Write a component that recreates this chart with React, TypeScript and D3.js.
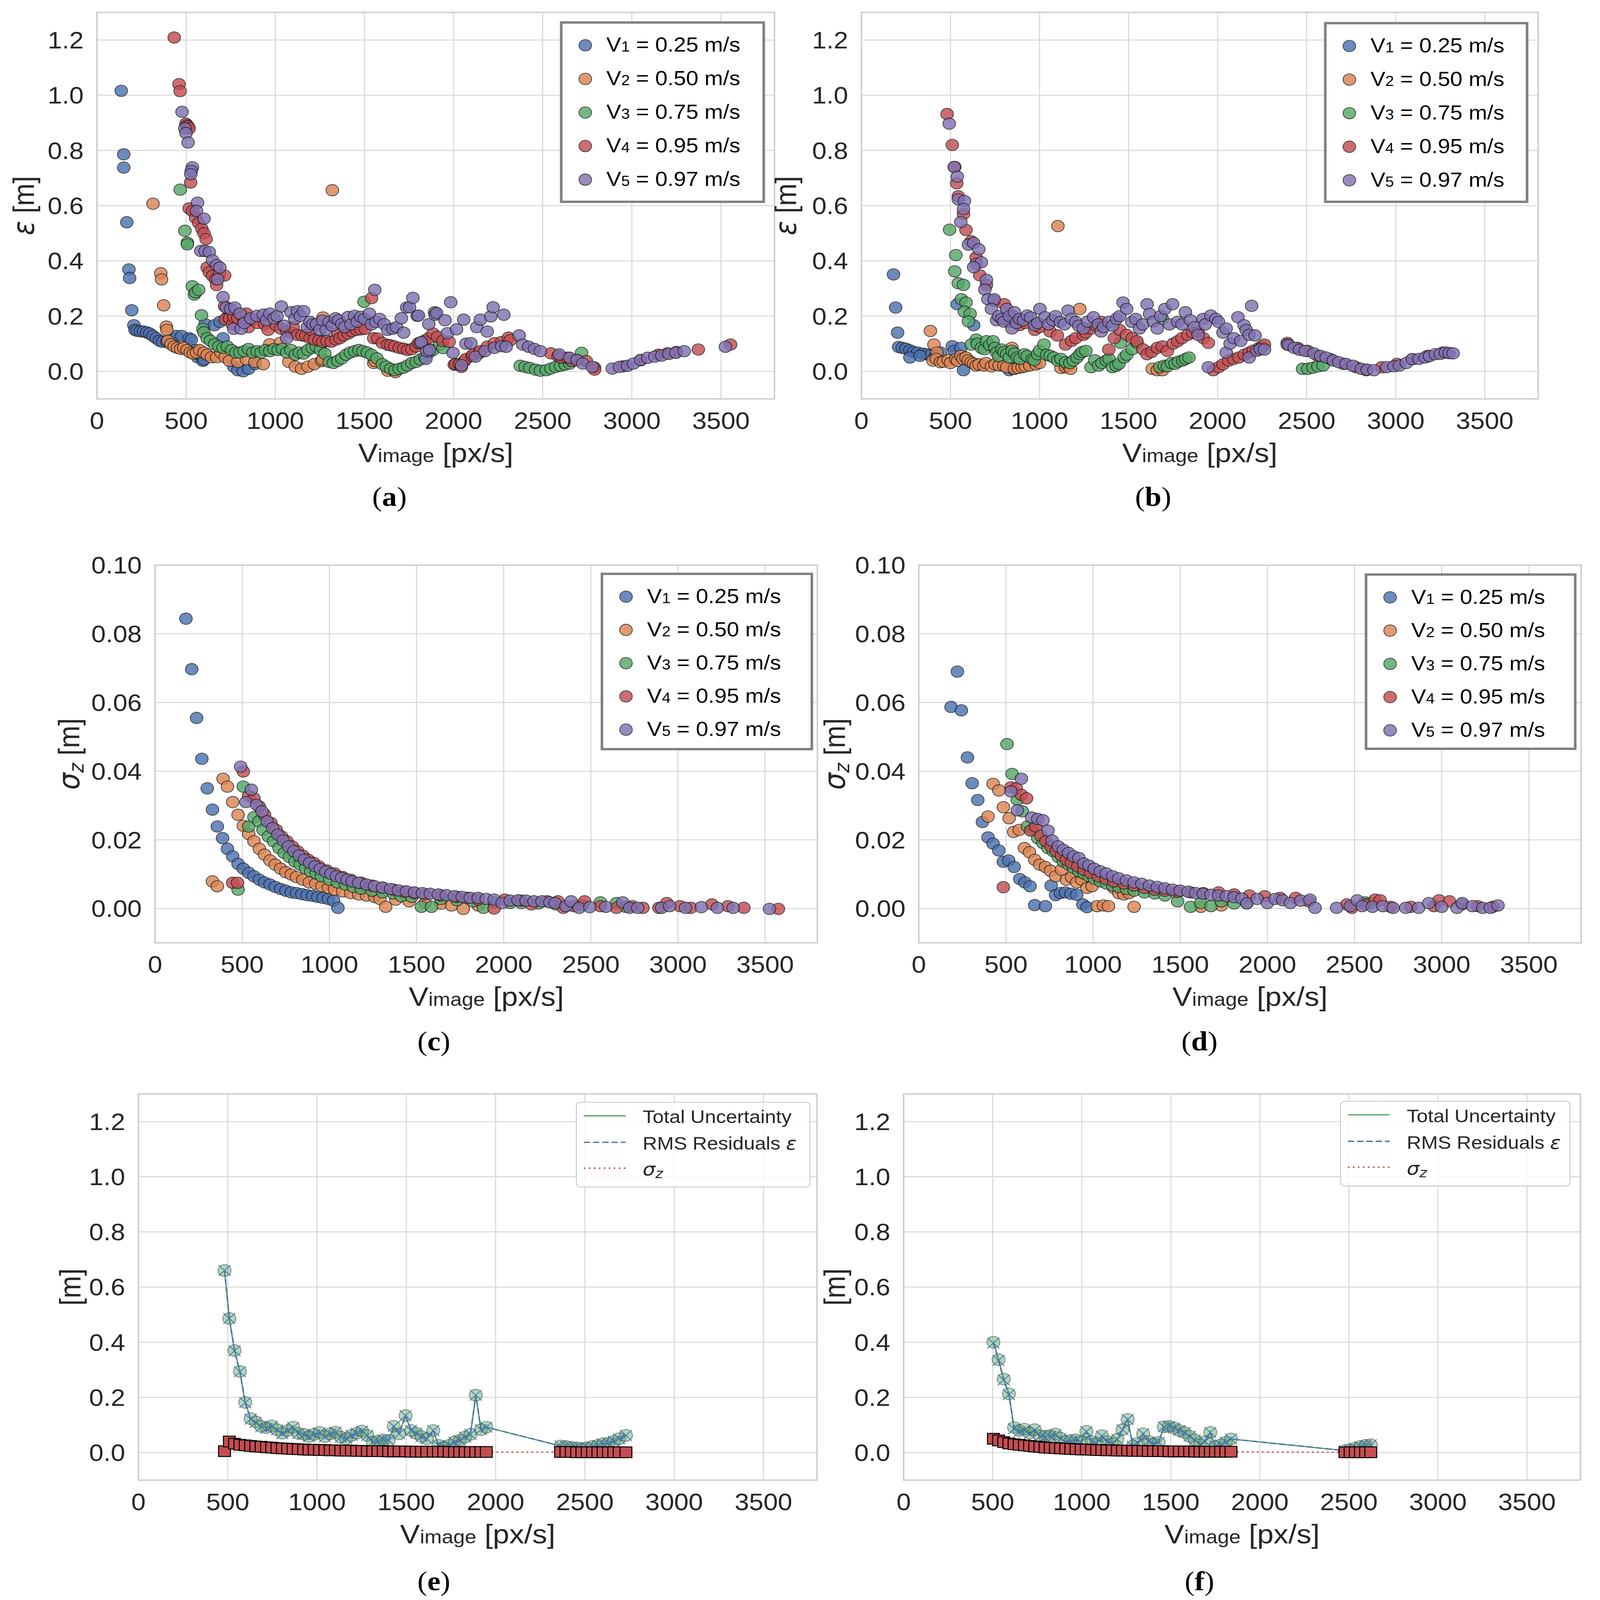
import React from 'react';
import * as d3 from 'd3';

const W = 4322;
const H = 4765;
const COLORS = ['#4C72B0', '#DD8452', '#55A868', '#C44E52', '#8172B3'];
const SPEED_LABELS = ['0.25', '0.50', '0.75', '0.95', '0.97'];
const X_TICKS = [0, 500, 1000, 1500, 2000, 2500, 3000, 3500];
const EPS_TICKS = [0, 0.2, 0.4, 0.6, 0.8, 1.0, 1.2];
const SIG_TICKS = [0, 0.02, 0.04, 0.06, 0.08, 0.1];
const LINE_LEGEND = ['Total Uncertainty', 'RMS Residuals', 'sigma'];

type Pt = [number, number];

// ---------- panel (a): epsilon, run 1 ----------
const epsA_V1: Pt[] = [[136,1.016],[150,0.786],[150,0.738],[167,0.540],[179,0.369],[183,0.338],[195,0.221],[207,0.167],[213,0.150],[225,0.147],[243,0.145],[261,0.144],[279,0.141],[296,0.137],[314,0.128],[332,0.120],[350,0.111],[368,0.107],[392,0.107],[421,0.120],[445,0.128],[475,0.128],[517,0.120],[529,0.115],[552,0.077],[564,0.051],[576,0.060],[594,0.038],[600,0.043],[606,0.171],[659,0.167],[689,0.179],[707,0.120],[767,0.017],[790,0.004],[820,0.000],[850,0.009],[886,0.026]];
const epsA_V2: Pt[] = [[314,0.607],[358,0.355],[362,0.333],[374,0.239],[389,0.162],[392,0.150],[398,0.111],[415,0.098],[433,0.090],[451,0.085],[469,0.081],[487,0.085],[505,0.077],[523,0.068],[540,0.064],[558,0.068],[576,0.077],[600,0.068],[618,0.060],[642,0.051],[671,0.051],[695,0.068],[719,0.051],[743,0.038],[790,0.034],[838,0.043],[886,0.034],[933,0.026],[969,0.098],[1028,0.103],[1076,0.034],[1112,0.017],[1147,0.009],[1183,0.017],[1219,0.026],[1259,0.037],[1266,0.043],[1268,0.195],[1320,0.656],[1552,0.030],[1560,0.037],[1631,0.002],[1674,-0.003]];
const epsA_V3: Pt[] = [[467,0.658],[493,0.509],[507,0.466],[507,0.460],[535,0.308],[546,0.278],[553,0.286],[570,0.295],[586,0.203],[594,0.154],[600,0.141],[618,0.120],[636,0.111],[659,0.098],[683,0.090],[707,0.085],[731,0.090],[755,0.077],[779,0.068],[802,0.068],[826,0.073],[850,0.081],[874,0.068],[898,0.073],[921,0.068],[945,0.077],[969,0.073],[993,0.081],[1016,0.077],[1040,0.081],[1064,0.068],[1088,0.077],[1112,0.060],[1135,0.068],[1159,0.064],[1183,0.077],[1207,0.085],[1230,0.090],[1254,0.077],[1278,0.064],[1302,0.034],[1326,0.030],[1350,0.038],[1373,0.047],[1397,0.060],[1421,0.068],[1445,0.073],[1469,0.077],[1492,0.073],[1498,0.252],[1516,0.068],[1540,0.060],[1570,0.047],[1600,0.026],[1623,0.017],[1647,0.009],[1671,0.004],[1695,0.009],[1719,0.013],[1742,0.021],[1766,0.030],[1790,0.034],[1814,0.043],[1838,0.051],[1862,0.068],[1885,0.077],[1894,0.214],[1923,0.096],[1941,0.084],[2374,0.020],[2401,0.016],[2427,0.012],[2460,0.006],[2487,0.002],[2520,0.004],[2546,0.010],[2573,0.016],[2599,0.020],[2626,0.024],[2652,0.028],[2718,0.067]];
const epsA_V4: Pt[] = [[433,1.209],[460,1.040],[466,1.015],[499,0.897],[505,0.891],[511,0.887],[517,0.880],[525,0.684],[517,0.590],[535,0.581],[553,0.556],[570,0.538],[588,0.517],[600,0.500],[612,0.479],[618,0.376],[630,0.359],[648,0.346],[665,0.333],[671,0.312],[687,0.352],[716,0.347],[716,0.236],[730,0.195],[719,0.188],[743,0.192],[760,0.170],[767,0.197],[790,0.192],[814,0.201],[838,0.209],[850,0.160],[870,0.185],[900,0.175],[940,0.170],[960,0.150],[1005,0.167],[1030,0.155],[1064,0.145],[1090,0.140],[1100,0.160],[1124,0.132],[1150,0.130],[1171,0.128],[1195,0.120],[1200,0.150],[1219,0.115],[1245,0.112],[1266,0.107],[1290,0.110],[1314,0.107],[1340,0.115],[1350,0.140],[1362,0.120],[1385,0.130],[1409,0.137],[1430,0.145],[1457,0.150],[1480,0.152],[1504,0.154],[1540,0.265],[1552,0.120],[1574,0.119],[1600,0.103],[1631,0.096],[1647,0.094],[1670,0.090],[1695,0.085],[1720,0.082],[1742,0.077],[1765,0.080],[1790,0.090],[1803,0.102],[1838,0.111],[1860,0.120],[1885,0.137],[1910,0.125],[1940,0.110],[1975,0.107],[2004,0.024],[2012,0.026],[2032,0.026],[2044,0.016],[2061,0.037],[2070,0.045],[2104,0.055],[2110,0.061],[2147,0.067],[2149,0.073],[2189,0.089],[2229,0.102],[2269,0.106],[2308,0.122],[2318,0.113],[2546,0.065],[2586,0.055],[2604,0.049],[2639,0.049],[2662,0.037],[2692,0.041],[2745,0.037],[2790,0.014],[2791,0.006],[2950,0.018],[3050,0.040],[3150,0.060],[3200,0.065],[3250,0.070],[3373,0.079],[3554,0.097]];
const epsA_V5: Pt[] = [[477,0.940],[493,0.880],[499,0.863],[511,0.829],[535,0.739],[529,0.726],[526,0.714],[564,0.611],[558,0.581],[600,0.553],[582,0.436],[606,0.436],[630,0.432],[648,0.402],[671,0.385],[689,0.376],[677,0.333],[707,0.269],[725,0.231],[749,0.226],[773,0.231],[802,0.209],[766,0.154],[808,0.154],[826,0.175],[862,0.192],[897,0.201],[933,0.205],[950,0.185],[969,0.209],[993,0.192],[1010,0.200],[1034,0.235],[1050,0.165],[1064,0.120],[1088,0.214],[1110,0.190],[1124,0.218],[1140,0.200],[1159,0.218],[1180,0.160],[1195,0.179],[1210,0.170],[1231,0.171],[1250,0.150],[1266,0.184],[1285,0.150],[1302,0.179],[1320,0.165],[1338,0.192],[1355,0.185],[1373,0.171],[1390,0.160],[1409,0.197],[1425,0.170],[1445,0.201],[1460,0.180],[1480,0.197],[1500,0.190],[1528,0.209],[1540,0.170],[1558,0.295],[1564,0.179],[1585,0.190],[1611,0.171],[1630,0.150],[1659,0.154],[1680,0.160],[1707,0.192],[1720,0.140],[1737,0.231],[1753,0.232],[1772,0.266],[1796,0.201],[1803,0.202],[1814,0.103],[1819,0.106],[1845,0.045],[1850,0.073],[1861,0.171],[1865,0.077],[1897,0.205],[1905,0.211],[1952,0.185],[1965,0.138],[1984,0.250],[1997,0.067],[2017,0.152],[2044,0.022],[2057,0.187],[2070,0.100],[2097,0.102],[2123,0.053],[2130,0.160],[2150,0.187],[2176,0.073],[2189,0.144],[2209,0.199],[2222,0.232],[2229,0.085],[2269,0.091],[2282,0.205],[2295,0.089],[2368,0.130],[2388,0.097],[2421,0.089],[2454,0.081],[2487,0.073],[2593,0.061],[2652,0.049],[2692,0.041],[2725,0.028],[2778,0.016],[2890,0.010],[2930,0.016],[2976,0.020],[3009,0.028],[3049,0.041],[3089,0.049],[3128,0.053],[3168,0.057],[3208,0.063],[3247,0.067],[3294,0.073],[3525,0.089]];

// ---------- panel (b): epsilon, run 2 ----------
const epsB_V1: Pt[] = [[180,0.351],[192,0.231],[203,0.140],[209,0.088],[229,0.085],[249,0.082],[272,0.076],[292,0.070],[315,0.068],[344,0.064],[367,0.062],[387,0.058],[272,0.050],[329,0.056],[415,0.053],[444,0.068],[510,0.091],[521,0.074],[538,0.243],[558,0.085],[573,0.004],[630,0.167],[830,0.004],[853,0.009]];
const epsB_V2: Pt[] = [[387,0.146],[407,0.097],[424,0.068],[401,0.039],[420,0.045],[444,0.033],[460,0.035],[487,0.041],[500,0.030],[530,0.044],[540,0.038],[558,0.056],[570,0.045],[587,0.050],[600,0.040],[616,0.033],[630,0.028],[644,0.021],[660,0.025],[687,0.021],[700,0.030],[730,0.018],[750,0.025],[773,0.021],[800,0.020],[816,0.015],[845,0.085],[859,0.009],[880,0.012],[902,0.015],[920,0.018],[945,0.021],[980,0.025],[1000,0.030],[1103,0.526],[1120,0.012],[1146,0.015],[1160,0.020],[1174,0.009],[1226,0.226],[1633,0.009],[1661,0.004],[1690,0.004]];
const epsB_V3: Pt[] = [[495,0.513],[530,0.421],[524,0.362],[544,0.319],[573,0.313],[561,0.261],[587,0.249],[578,0.216],[610,0.208],[601,0.181],[644,0.115],[616,0.097],[650,0.100],[673,0.085],[690,0.080],[702,0.109],[720,0.095],[739,0.109],[750,0.085],[759,0.068],[770,0.055],[788,0.079],[800,0.070],[816,0.062],[830,0.050],[845,0.074],[860,0.065],[874,0.050],[890,0.045],[916,0.062],[930,0.055],[959,0.044],[970,0.040],[988,0.062],[1000,0.075],[1025,0.097],[1040,0.060],[1060,0.056],[1080,0.050],[1103,0.039],[1120,0.045],[1146,0.033],[1170,0.030],[1189,0.039],[1210,0.050],[1226,0.062],[1240,0.070],[1260,0.074],[1289,0.015],[1310,0.040],[1332,0.021],[1350,0.030],[1375,0.039],[1390,0.045],[1409,0.015],[1430,0.020],[1446,0.027],[1455,0.103],[1475,0.050],[1490,0.060],[1520,0.080],[1547,0.103],[1675,0.015],[1690,0.190],[1700,0.020],[1718,0.018],[1740,0.030],[1761,0.027],[1780,0.035],[1804,0.039],[1820,0.045],[1839,0.050],[2477,0.009],[2506,0.009],[2535,0.013],[2563,0.018],[2592,0.021]];
const epsB_V4: Pt[] = [[481,0.932],[510,0.820],[524,0.740],[535,0.681],[544,0.634],[573,0.570],[587,0.512],[616,0.471],[644,0.412],[664,0.348],[702,0.313],[745,0.255],[802,0.243],[788,0.190],[830,0.179],[850,0.200],[888,0.167],[920,0.175],[973,0.150],[1000,0.160],[1060,0.144],[1100,0.130],[1146,0.097],[1180,0.110],[1203,0.120],[1246,0.132],[1260,0.140],[1289,0.155],[1320,0.165],[1346,0.179],[1389,0.079],[1420,0.120],[1450,0.150],[1489,0.132],[1520,0.120],[1547,0.109],[1580,0.080],[1604,0.062],[1630,0.070],[1661,0.085],[1690,0.090],[1718,0.074],[1750,0.100],[1775,0.109],[1800,0.120],[1833,0.132],[1860,0.140],[1890,0.144],[1920,0.120],[1948,0.103],[1976,0.004],[2005,0.015],[2030,0.025],[2062,0.039],[2090,0.045],[2119,0.050],[2150,0.060],[2177,0.068],[2200,0.075],[2234,0.085],[2250,0.090],[2263,0.097],[2391,0.103],[2449,0.085],[2506,0.074],[2563,0.056],[2635,0.044],[2706,0.027],[2778,0.015],[2835,0.004],[2921,0.015],[3007,0.027],[3093,0.044],[3179,0.056],[3265,0.068]];
const epsB_V5: Pt[] = [[493,0.897],[521,0.740],[538,0.705],[544,0.623],[578,0.617],[573,0.588],[558,0.541],[601,0.459],[630,0.465],[659,0.442],[644,0.389],[673,0.395],[630,0.377],[702,0.331],[693,0.296],[710,0.261],[745,0.261],[730,0.226],[759,0.185],[770,0.200],[788,0.190],[800,0.180],[816,0.226],[830,0.200],[859,0.214],[845,0.155],[870,0.175],[888,0.190],[910,0.185],[931,0.202],[950,0.195],[973,0.167],[990,0.175],[1002,0.226],[1031,0.196],[1050,0.170],[1074,0.185],[1090,0.200],[1117,0.179],[1140,0.170],[1160,0.220],[1180,0.190],[1203,0.179],[1220,0.165],[1246,0.155],[1270,0.180],[1303,0.196],[1330,0.170],[1346,0.144],[1360,0.160],[1389,0.179],[1410,0.165],[1432,0.190],[1450,0.200],[1469,0.249],[1489,0.226],[1518,0.179],[1540,0.190],[1561,0.155],[1580,0.170],[1604,0.243],[1618,0.208],[1640,0.180],[1661,0.155],[1680,0.200],[1704,0.226],[1730,0.170],[1747,0.243],[1775,0.179],[1800,0.170],[1819,0.214],[1847,0.185],[1870,0.160],[1890,0.132],[1919,0.190],[1930,0.170],[1962,0.202],[1948,0.015],[1990,0.190],[2005,0.179],[2030,0.140],[2048,0.155],[2048,0.068],[2070,0.100],[2091,0.120],[2114,0.196],[2130,0.110],[2148,0.167],[2160,0.150],[2177,0.132],[2191,0.237],[2177,0.050],[2210,0.130],[2220,0.074],[2240,0.080],[2263,0.079],[2391,0.097],[2400,0.095],[2430,0.085],[2460,0.078],[2492,0.074],[2540,0.065],[2578,0.056],[2610,0.050],[2649,0.039],[2680,0.033],[2721,0.027],[2760,0.020],[2807,0.009],[2840,0.006],[2878,0.004],[2950,0.015],[2990,0.018],[3021,0.021],[3060,0.030],[3093,0.044],[3130,0.045],[3165,0.050],[3190,0.055],[3222,0.062],[3250,0.063],[3279,0.068],[3300,0.066],[3322,0.065]];

// ---------- panel (c): sigma_z, run 1 ----------
const sigC_V1: Pt[] = [[177,0.0844],[210,0.0697],[238,0.0555],[268,0.0436],[299,0.0350],[329,0.0288],[357,0.0239],[387,0.0205],[415,0.0174],[445,0.0152],[476,0.0130],[506,0.0116],[537,0.0104],[567,0.0094],[598,0.0084],[628,0.0076],[659,0.0070],[689,0.0063],[720,0.0057],[750,0.0052],[781,0.0047],[811,0.0045],[842,0.0042],[872,0.0039],[903,0.0037],[933,0.0034],[963,0.0031],[994,0.0028],[1024,0.0023],[1049,0.0002]];
const sigC_V2: Pt[] = [[329,0.0079],[357,0.0065],[390,0.0378],[415,0.0355],[445,0.0310],[476,0.0273],[506,0.0241],[537,0.0217],[567,0.0196],[598,0.0174],[628,0.0157],[659,0.0140],[689,0.0128],[720,0.0116],[750,0.0106],[781,0.0099],[811,0.0092],[848,0.0084],[884,0.0076],[921,0.0072],[957,0.0065],[994,0.0060],[1030,0.0055],[1076,0.0050],[1122,0.0045],[1168,0.0041],[1213,0.0038],[1259,0.0034],[1290,0.0028],[1323,0.0005],[1381,0.0026],[1457,0.0021],[1549,0.0016],[1640,0.0014],[1701,0.0009],[1768,-0.0001],[1854,0.0009]];
const sigC_V3: Pt[] = [[476,0.0055],[506,0.0355],[537,0.0239],[567,0.0266],[595,0.0254],[619,0.0229],[650,0.0210],[680,0.0196],[711,0.0176],[741,0.0162],[771,0.0150],[802,0.0137],[832,0.0128],[863,0.0118],[893,0.0108],[924,0.0102],[954,0.0094],[1000,0.0084],[1046,0.0076],[1092,0.0070],[1137,0.0063],[1183,0.0058],[1244,0.0052],[1305,0.0047],[1366,0.0044],[1412,0.0036],[1473,0.0034],[1528,0.0005],[1586,0.0005],[1640,0.0028],[1732,0.0024],[1823,0.0021],[1884,0.0002],[1945,0.0018],[2037,0.0016],[2100,0.0016],[2200,0.0015],[2300,0.0012],[2450,0.0010],[2555,0.0018],[2647,0.0016],[2700,0.0005]];
const sigC_V4: Pt[] = [[445,0.0075],[473,0.0075],[506,0.0399],[537,0.0328],[567,0.0321],[598,0.0297],[628,0.0273],[665,0.0249],[695,0.0229],[726,0.0210],[756,0.0196],[787,0.0181],[817,0.0167],[848,0.0154],[878,0.0142],[909,0.0133],[939,0.0123],[985,0.0111],[1031,0.0102],[1076,0.0092],[1122,0.0084],[1183,0.0075],[1244,0.0067],[1305,0.0061],[1366,0.0055],[1427,0.0049],[1488,0.0045],[1549,0.0041],[1640,0.0038],[1732,0.0034],[1793,0.0031],[1854,0.0026],[1945,0.0000],[2006,0.0026],[2098,0.0023],[2159,0.0012],[2250,0.0021],[2311,0.0021],[2342,0.0002],[2403,0.0007],[2464,0.0021],[2555,0.0007],[2647,0.0002],[2738,0.0007],[2799,0.0002],[2891,0.0002],[2936,0.0016],[3012,0.0007],[3073,0.0002],[3195,0.0012],[3287,0.0007],[3378,0.0002],[3576,-0.0001]];
const sigC_V5: Pt[] = [[491,0.0413],[521,0.0310],[552,0.0346],[582,0.0302],[613,0.0283],[643,0.0254],[674,0.0234],[704,0.0215],[735,0.0198],[765,0.0181],[796,0.0167],[826,0.0154],[857,0.0142],[887,0.0133],[918,0.0123],[948,0.0115],[979,0.0107],[1009,0.0101],[1040,0.0094],[1070,0.0089],[1101,0.0084],[1131,0.0079],[1168,0.0075],[1213,0.0070],[1259,0.0065],[1305,0.0061],[1351,0.0057],[1396,0.0053],[1442,0.0050],[1488,0.0047],[1534,0.0045],[1579,0.0043],[1625,0.0041],[1671,0.0039],[1717,0.0036],[1762,0.0034],[1808,0.0031],[1854,0.0031],[1900,0.0028],[1945,0.0026],[1991,0.0016],[2037,0.0023],[2082,0.0024],[2128,0.0023],[2174,0.0021],[2220,0.0021],[2265,0.0018],[2296,0.0016],[2357,0.0007],[2387,0.0021],[2433,0.0002],[2494,0.0004],[2586,0.0005],[2683,0.0018],[2723,0.0002],[2769,0.0002],[2906,0.0002],[2952,0.0007],[3043,0.0002],[3134,0.0004],[3226,0.0002],[3317,0.0002],[3525,-0.0001]];

// ---------- panel (d): sigma_z, run 2 ----------
const sigD_V1: Pt[] = [[185,0.0587],[221,0.0690],[244,0.0577],[279,0.0440],[306,0.0365],[338,0.0316],[365,0.0252],[397,0.0207],[426,0.0189],[459,0.0169],[485,0.0136],[515,0.0140],[547,0.0121],[579,0.0086],[609,0.0076],[638,0.0065],[665,0.0010],[726,0.0007],[759,0.0067],[785,0.0039],[812,0.0045],[841,0.0047],[873,0.0043],[906,0.0040],[941,0.0012],[965,0.0004]];
const sigD_V2: Pt[] = [[397,0.0268],[426,0.0363],[459,0.0344],[485,0.0295],[518,0.0263],[544,0.0223],[576,0.0229],[606,0.0176],[635,0.0164],[665,0.0142],[694,0.0128],[726,0.0121],[756,0.0110],[785,0.0094],[818,0.0113],[847,0.0084],[876,0.0091],[906,0.0076],[935,0.0084],[965,0.0060],[994,0.0065],[1023,0.0007],[1059,0.0009],[1088,0.0007],[1118,0.0060],[1147,0.0045],[1176,0.0041],[1206,0.0045],[1235,0.0005],[1353,0.0055],[1471,0.0047],[1618,0.0005],[1735,0.0009]];
const sigD_V3: Pt[] = [[506,0.0479],[535,0.0392],[565,0.0317],[594,0.0283],[623,0.0239],[653,0.0229],[682,0.0205],[712,0.0191],[741,0.0176],[771,0.0167],[800,0.0150],[829,0.0137],[859,0.0128],[888,0.0118],[918,0.0108],[947,0.0102],[976,0.0094],[1006,0.0087],[1041,0.0079],[1076,0.0073],[1112,0.0067],[1147,0.0063],[1191,0.0057],[1235,0.0052],[1294,0.0047],[1353,0.0044],[1412,0.0038],[1485,0.0021],[1559,0.0005],[1618,0.0016],[1676,0.0007],[1735,0.0021],[1809,0.0015],[1882,0.0016],[2559,0.0018],[2588,0.0016]];
const sigD_V4: Pt[] = [[485,0.0062],[529,0.0353],[559,0.0350],[588,0.0331],[618,0.0321],[641,0.0227],[671,0.0239],[700,0.0212],[729,0.0196],[759,0.0181],[788,0.0167],[818,0.0154],[847,0.0142],[876,0.0133],[912,0.0123],[947,0.0113],[985,0.0104],[1029,0.0094],[1074,0.0086],[1118,0.0079],[1176,0.0073],[1235,0.0067],[1294,0.0060],[1353,0.0055],[1412,0.0052],[1485,0.0049],[1559,0.0047],[1632,0.0045],[1720,0.0047],[1809,0.0041],[1897,0.0038],[1985,0.0036],[2073,0.0031],[2162,0.0031],[2235,0.0021],[2456,0.0012],[2485,0.0002],[2559,0.0012],[2618,0.0026],[2647,0.0024],[2706,0.0005],[2823,0.0005],[2956,0.0007],[2985,0.0024],[3044,0.0021],[3118,0.0012],[3206,0.0007],[3294,0.0005]];
const sigD_V5: Pt[] = [[588,0.0378],[529,0.0341],[565,0.0286],[647,0.0265],[682,0.0261],[712,0.0257],[741,0.0227],[765,0.0198],[800,0.0181],[829,0.0171],[859,0.0162],[888,0.0152],[918,0.0147],[947,0.0131],[976,0.0125],[1006,0.0116],[1041,0.0108],[1076,0.0102],[1112,0.0094],[1147,0.0088],[1191,0.0082],[1235,0.0076],[1279,0.0072],[1323,0.0067],[1368,0.0063],[1412,0.0059],[1456,0.0055],[1500,0.0052],[1544,0.0049],[1588,0.0045],[1632,0.0043],[1676,0.0040],[1720,0.0038],[1765,0.0036],[1809,0.0033],[1853,0.0029],[1882,0.0015],[1941,0.0028],[2000,0.0016],[2044,0.0028],[2088,0.0024],[2132,0.0016],[2191,0.0023],[2244,0.0026],[2273,0.0002],[2397,0.0002],[2476,0.0007],[2515,0.0024],[2544,0.0007],[2603,0.0005],[2662,0.0007],[2721,0.0002],[2794,0.0002],[2868,0.0002],[2926,0.0016],[3000,0.0005],[3088,0.0002],[3118,0.0016],[3176,0.0007],[3235,0.0002],[3279,0.0002],[3323,0.0009]];

// ---------- panel (e): uncertainty budget ----------
const vE = [482,509,538,568,598,628,657,687,717,746,776,806,836,866,895,925,955,984,1014,1044,1074,1103,1133,1163,1193,1222,1252,1282,1312,1341,1371,1401,1430,1460,1496,1526,1555,1585,1615,1651,1680,1710,1740,1770,1799,1829,1859,1889,1918,1948,2364,2394,2424,2454,2483,2513,2543,2573,2602,2632,2662,2692,2730];
const totalE = [0.660,0.486,0.370,0.294,0.182,0.123,0.111,0.095,0.090,0.097,0.083,0.070,0.080,0.092,0.070,0.066,0.058,0.066,0.073,0.058,0.068,0.074,0.056,0.050,0.062,0.070,0.078,0.062,0.038,0.041,0.046,0.044,0.095,0.068,0.134,0.080,0.070,0.058,0.050,0.080,0.026,0.019,0.026,0.038,0.044,0.056,0.066,0.208,0.083,0.092,0.024,0.022,0.019,0.017,0.015,0.017,0.022,0.026,0.032,0.034,0.041,0.050,0.062];
const rmsE = [0.660,0.486,0.369,0.293,0.181,0.121,0.109,0.093,0.088,0.095,0.082,0.068,0.079,0.091,0.069,0.065,0.057,0.065,0.072,0.057,0.068,0.074,0.056,0.050,0.062,0.070,0.078,0.062,0.038,0.041,0.046,0.044,0.095,0.068,0.134,0.080,0.070,0.058,0.050,0.080,0.026,0.019,0.026,0.038,0.044,0.056,0.066,0.208,0.083,0.092,0.024,0.022,0.019,0.017,0.015,0.017,0.022,0.026,0.032,0.034,0.041,0.050,0.062];
const sigmaE = [0.005,0.040,0.032,0.028,0.026,0.024,0.022,0.021,0.019,0.018,0.016,0.015,0.014,0.013,0.012,0.011,0.010,0.010,0.009,0.009,0.008,0.008,0.007,0.007,0.007,0.006,0.006,0.005,0.005,0.005,0.005,0.004,0.004,0.004,0.004,0.003,0.003,0.003,0.003,0.003,0.003,0.003,0.002,0.002,0.002,0.002,0.002,0.002,0.002,0.002,0.002,0.002,0.002,0.001,0.001,0.001,0.001,0.001,0.001,0.001,0.001,0.001,0.001];

// ---------- panel (f): uncertainty budget ----------
const vF = [504,533,562,591,620,649,678,707,736,765,794,823,852,881,910,939,968,997,1026,1055,1084,1113,1142,1171,1200,1229,1258,1287,1316,1345,1374,1403,1432,1461,1490,1519,1548,1577,1606,1635,1664,1693,1722,1751,1780,1809,1838,2478,2507,2536,2565,2594,2623];
const totalF = [0.400,0.337,0.266,0.213,0.091,0.080,0.085,0.071,0.083,0.061,0.059,0.061,0.067,0.052,0.040,0.044,0.046,0.040,0.077,0.040,0.034,0.061,0.040,0.032,0.049,0.083,0.120,0.024,0.034,0.068,0.040,0.032,0.037,0.093,0.095,0.089,0.080,0.073,0.059,0.046,0.028,0.040,0.073,0.022,0.028,0.037,0.049,0.007,0.010,0.016,0.022,0.026,0.028];
const rmsF = [0.397,0.334,0.263,0.210,0.086,0.075,0.081,0.067,0.080,0.058,0.056,0.059,0.065,0.050,0.038,0.042,0.044,0.038,0.076,0.039,0.033,0.060,0.039,0.031,0.048,0.083,0.120,0.023,0.033,0.068,0.040,0.032,0.037,0.093,0.095,0.089,0.080,0.073,0.059,0.046,0.028,0.040,0.073,0.022,0.028,0.037,0.049,0.007,0.010,0.016,0.022,0.026,0.028];
const sigmaF = [0.050,0.044,0.038,0.033,0.030,0.028,0.026,0.024,0.022,0.020,0.018,0.017,0.016,0.015,0.014,0.013,0.012,0.011,0.011,0.010,0.009,0.009,0.008,0.008,0.007,0.007,0.007,0.006,0.006,0.006,0.005,0.005,0.005,0.005,0.004,0.004,0.004,0.004,0.004,0.003,0.003,0.003,0.003,0.003,0.003,0.003,0.003,0.001,0.001,0.001,0.001,0.001,0.001];

// ---------- layout ----------
const FONT = "'Liberation Sans', Arial, Helvetica, sans-serif";
const MATH = "'DejaVu Sans', sans-serif";
const SERIF = "'Liberation Serif', 'DejaVu Serif', serif";
const TXT = '#262626';
const GRID = '#d9d9d9';

type Box = { left: number; right: number; top: number; bottom: number };

const BOX_A: Box = { left: 262, right: 2092, top: 37, bottom: 1188 };
const BOX_B: Box = { left: 2327, right: 4155, top: 37, bottom: 1188 };
const BOX_C: Box = { left: 419, right: 2208, top: 1683, bottom: 2808 };
const BOX_D: Box = { left: 2482, right: 4271, top: 1683, bottom: 2808 };
const BOX_E: Box = { left: 374, right: 2207, top: 3258, bottom: 4408 };
const BOX_F: Box = { left: 2441, right: 4269, top: 3258, bottom: 4408 };

function scales(box: Box, yDom: [number, number]) {
  const x = d3.scaleLinear().domain([0, 3800]).range([box.left, box.right]);
  const y = d3.scaleLinear().domain(yDom).range([box.bottom, box.top]);
  return { x, y };
}

function Frame(props: {
  box: Box; x: any; y: any; yTicks: number[]; fmt: (v: number) => string;
  yLabel: React.ReactNode; yLabelX: number; capX: number; capY: number; cap: string;
  children?: React.ReactNode;
}) {
  const { box, x, y, yTicks, fmt, yLabel, yLabelX, capX, capY, cap, children } = props;
  const cy = (box.top + box.bottom) / 2;
  const cx = (box.left + box.right) / 2;
  return (
    <g>
      {X_TICKS.map((t) => (
        <line key={'gx' + t} x1={x(t)} x2={x(t)} y1={box.top} y2={box.bottom} stroke={GRID} strokeWidth={3} />
      ))}
      {yTicks.map((t) => (
        <line key={'gy' + t} x1={box.left} x2={box.right} y1={y(t)} y2={y(t)} stroke={GRID} strokeWidth={3} />
      ))}
      {children}
      <rect x={box.left} y={box.top} width={box.right - box.left} height={box.bottom - box.top}
        fill="none" stroke="#cccccc" strokeWidth={4} />
      {X_TICKS.map((t) => (
        <text key={'tx' + t} x={x(t)} y={box.bottom + 89} textAnchor="middle" fontSize={70}
          fill={TXT} fontFamily={FONT}>{t}</text>
      ))}
      {yTicks.map((t) => (
        <text key={'ty' + t} x={box.left - 36} y={y(t) + 25} textAnchor="end" fontSize={70}
          fill={TXT} fontFamily={FONT}>{fmt(t)}</text>
      ))}
      <text x={cx} y={box.bottom + 188} textAnchor="middle" fontSize={80} fill={TXT} fontFamily={FONT}>
        V<tspan fontSize={56}>image</tspan> [px/s]
      </text>
      <text transform={`translate(${yLabelX},${cy}) rotate(-90)`} textAnchor="middle" fontSize={80}
        fill={TXT} fontFamily={FONT}>{yLabel}</text>
      <text x={capX} y={capY} textAnchor="middle" fontSize={80} fill="#000" fontFamily={SERIF}>
        (<tspan fontWeight="bold">{cap}</tspan>)
      </text>
    </g>
  );
}

function Scatter({ series, x, y }: { series: Pt[][]; x: any; y: any }) {
  return (
    <g>
      {series.map((pts, si) => (
        <g key={si}>
          {pts.map((p, i) => (
            <circle key={i} cx={x(p[0])} cy={y(p[1])} r={17} fill={COLORS[si]} stroke="#1e1e1e"
              strokeWidth={2.2} opacity={0.82} />
          ))}
        </g>
      ))}
    </g>
  );
}

function SpeedLegend({ x0, y0, w, h, gap }: { x0: number; y0: number; w: number; h: number; gap: number }) {
  return (
    <g>
      <rect x={x0} y={y0} width={w} height={h} fill="#ffffff" stroke="#808080" strokeWidth={7} />
      {SPEED_LABELS.map((lab, i) => {
        const cy = y0 + 68 + i * gap;
        return (
          <g key={i}>
            <circle cx={x0 + 65} cy={cy} r={17} fill={COLORS[i]} stroke="#1e1e1e" strokeWidth={2.2} opacity={0.82} />
            <text x={x0 + 122} y={cy + 19} fontSize={60} fill="#000" fontFamily={FONT}>
              V<tspan fontSize={42}>{i + 1}</tspan>{` = ${lab} m/s`}
            </text>
          </g>
        );
      })}
    </g>
  );
}

const DASH = '17 8';
const DOT = '4.5 9';

function Budget({ v, total, rms, sigma, x, y }: { v: number[]; total: number[]; rms: number[]; sigma: number[]; x: any; y: any }) {
  const mk = (vals: number[]) =>
    d3.line<number>().x((_, i) => x(v[i])).y((d) => y(d))(vals) || '';
  return (
    <g>
      <path d={mk(total)} fill="none" stroke={COLORS[2]} strokeWidth={3.8} />
      {total.map((d, i) => (
        <circle key={'t' + i} cx={x(v[i])} cy={y(d)} r={17.5} fill={COLORS[2]} fillOpacity={0.45}
          stroke="#1e1e1e" strokeOpacity={0.45} strokeWidth={2.5} />
      ))}
      <path d={mk(rms)} fill="none" stroke={COLORS[0]} strokeWidth={3.8} strokeDasharray={DASH} />
      {rms.map((d, i) => {
        const cx = x(v[i]);
        const cy = y(d);
        const s = 16;
        return (
          <path key={'r' + i} d={`M${cx - s},${cy - s}L${cx + s},${cy + s}M${cx - s},${cy + s}L${cx + s},${cy - s}`}
            stroke={COLORS[0]} strokeWidth={2.4} fill="none" />
        );
      })}
      <path d={mk(sigma)} fill="none" stroke={COLORS[3]} strokeWidth={4} strokeDasharray={DOT} />
      {sigma.map((d, i) => (
        <rect key={'s' + i} x={x(v[i]) - 16} y={y(d) - 16} width={32} height={32} fill={COLORS[3]}
          stroke="#000" strokeWidth={2.8} />
      ))}
    </g>
  );
}

function BudgetLegend({ x0, y0, w, h }: { x0: number; y0: number; w: number; h: number }) {
  const rows = [y0 + 40, y0 + 119, y0 + 196];
  return (
    <g>
      <rect x={x0} y={y0} width={w} height={h} rx={10} fill="#ffffff" fillOpacity={0.8} stroke="#d0d0d0" strokeWidth={3} />
      <line x1={x0 + 20} x2={x0 + 133} y1={rows[0]} y2={rows[0]} stroke={COLORS[2]} strokeWidth={4} />
      <line x1={x0 + 20} x2={x0 + 133} y1={rows[1]} y2={rows[1]} stroke={COLORS[0]} strokeWidth={4} strokeDasharray={DASH} />
      <line x1={x0 + 20} x2={x0 + 133} y1={rows[2]} y2={rows[2]} stroke={COLORS[3]} strokeWidth={4} strokeDasharray={DOT} />
      <text x={x0 + 179} y={rows[0] + 22} fontSize={54} fill={TXT} fontFamily={FONT}>{LINE_LEGEND[0]}</text>
      <text x={x0 + 179} y={rows[1] + 22} fontSize={54} fill={TXT} fontFamily={FONT}>
        {LINE_LEGEND[1]} <tspan fontFamily={MATH} fontStyle="italic">ε</tspan>
      </text>
      <text x={x0 + 179} y={rows[2] + 22} fontSize={54} fill={TXT} fontFamily={MATH} fontStyle="italic">
        σ<tspan fontSize={39} dy={8}>z</tspan>
      </text>
    </g>
  );
}

const epsLabel = (
  <>
    <tspan fontFamily={MATH} fontStyle="italic">ε</tspan> [m]
  </>
);
const sigLabel = (
  <>
    <tspan fontFamily={MATH} fontStyle="italic">σ</tspan>
    <tspan fontFamily={MATH} fontStyle="italic" fontSize={56} dy={12}>z</tspan>
    <tspan dy={-12}> [m]</tspan>
  </>
);

export default function App() {
  const sA = scales(BOX_A, [-0.1, 1.3]);
  const sB = scales(BOX_B, [-0.1, 1.3]);
  const sC = scales(BOX_C, [-0.01, 0.1]);
  const sD = scales(BOX_D, [-0.01, 0.1]);
  const sE = scales(BOX_E, [-0.1, 1.3]);
  const sF = scales(BOX_F, [-0.1, 1.3]);
  const f1 = (v: number) => v.toFixed(1);
  const f2 = (v: number) => v.toFixed(2);
  return (
    <svg viewBox={`0 0 ${W} ${H}`} preserveAspectRatio="none"
      style={{ position: 'absolute', left: 0, top: 0, width: '100vw', height: '100vh', display: 'block', background: '#fff' }}>
      <rect x={0} y={0} width={W} height={H} fill="#fff" />
      <Frame box={BOX_A} x={sA.x} y={sA.y} yTicks={EPS_TICKS} fmt={f1} yLabel={epsLabel} yLabelX={92} capX={1052} capY={1506} cap="a">
        <Scatter series={[epsA_V1, epsA_V2, epsA_V3, epsA_V4, epsA_V5]} x={sA.x} y={sA.y} />
      </Frame>
      <SpeedLegend x0={1516} y0={67} w={547} h={534} gap={100} />

      <Frame box={BOX_B} x={sB.x} y={sB.y} yTicks={EPS_TICKS} fmt={f1} yLabel={epsLabel} yLabelX={2150} capX={3115} capY={1506} cap="b">
        <Scatter series={[epsB_V1, epsB_V2, epsB_V3, epsB_V4, epsB_V5]} x={sB.x} y={sB.y} />
      </Frame>
      <SpeedLegend x0={3580} y0={69} w={545} h={532} gap={100} />

      <Frame box={BOX_C} x={sC.x} y={sC.y} yTicks={SIG_TICKS} fmt={f2} yLabel={sigLabel} yLabelX={214} capX={1172} capY={3128} cap="c">
        <Scatter series={[sigC_V1, sigC_V2, sigC_V3, sigC_V4, sigC_V5]} x={sC.x} y={sC.y} />
      </Frame>
      <SpeedLegend x0={1626} y0={1709} w={567} h={522} gap={99} />

      <Frame box={BOX_D} x={sD.x} y={sD.y} yTicks={SIG_TICKS} fmt={f2} yLabel={sigLabel} yLabelX={2282} capX={3240} capY={3128} cap="d">
        <Scatter series={[sigD_V1, sigD_V2, sigD_V3, sigD_V4, sigD_V5]} x={sD.x} y={sD.y} />
      </Frame>
      <SpeedLegend x0={3690} y0={1711} w={565} h={519} gap={99} />

      <Frame box={BOX_E} x={sE.x} y={sE.y} yTicks={EPS_TICKS} fmt={f1} yLabel={'[m]'} yLabelX={217} capX={1172} capY={4736} cap="e">
        <Budget v={vE} total={totalE} rms={rmsE} sigma={sigmaE} x={sE.x} y={sE.y} />
      </Frame>
      <BudgetLegend x0={1557} y0={3283} w={631} h={252} />

      <Frame box={BOX_F} x={sF.x} y={sF.y} yTicks={EPS_TICKS} fmt={f1} yLabel={'[m]'} yLabelX={2282} capX={3240} capY={4736} cap="f">
        <Budget v={vF} total={totalF} rms={rmsF} sigma={sigmaF} x={sF.x} y={sF.y} />
      </Frame>
      <BudgetLegend x0={3621} y0={3280} w={620} h={252} />
    </svg>
  );
}
